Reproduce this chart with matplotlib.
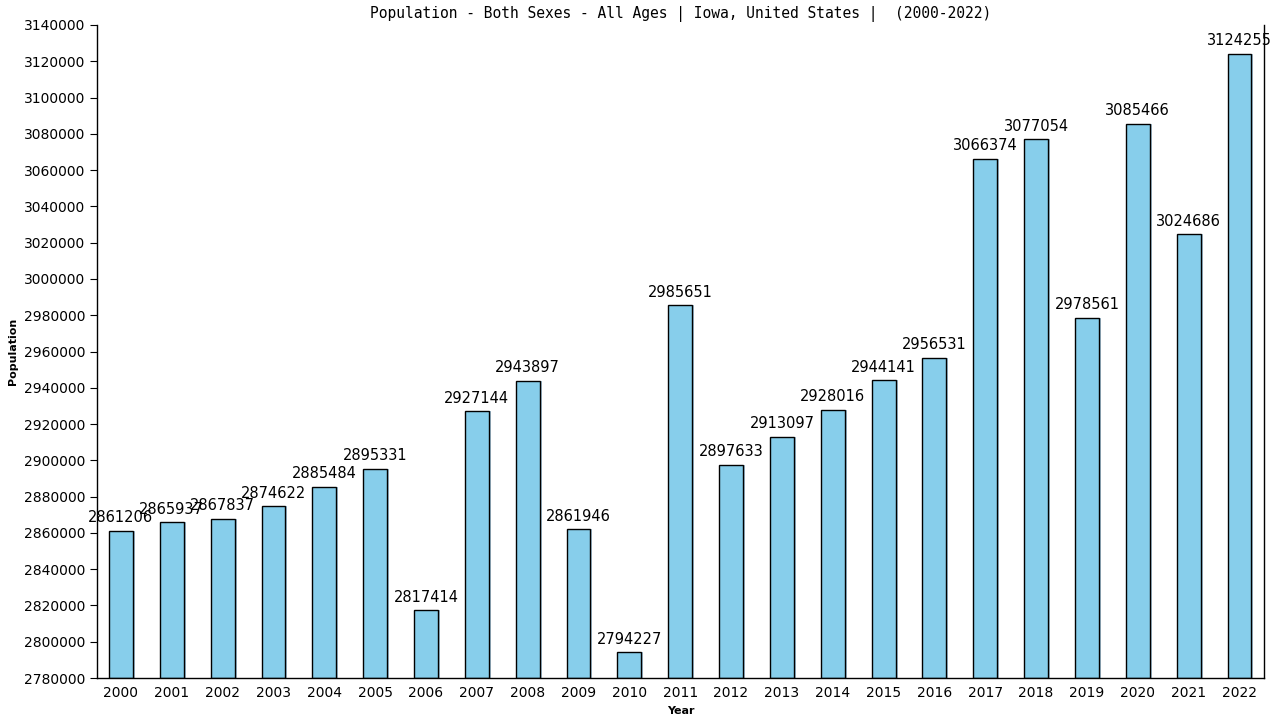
import numpy as np
import matplotlib
matplotlib.use("Agg")
import matplotlib.pyplot as plt

years = [str(y) for y in range(2000, 2023)]
population = [2861206, 2865937, 2867837, 2874622, 2885484, 2895331, 2817414,
              2927144, 2943897, 2861946, 2794227, 2985651, 2897633, 2913097,
              2928016, 2944141, 2956531, 3066374, 3077054, 2978561, 3085466,
              3024686, 3124255]

fig = plt.figure(figsize=(12.8, 7.2), dpi=100)
ax = fig.add_axes([0.0758, 0.0583, 0.912, 0.907])

x = np.arange(len(years))
base = 2780000
heights = np.array(population) - base

# soft shadow behind each bar
ax.bar(x + 0.04, heights, width=0.47, bottom=base, color="#6a9ab8", alpha=0.6,
       linewidth=0, zorder=1)
ax.bar(x, heights, width=0.47, bottom=base, color="#87ceeb",
       edgecolor="black", linewidth=1.0, zorder=2)

for xi, val in zip(x, population):
    ax.text(xi, val + 3000, str(val), ha="center", va="bottom",
            fontsize=10.5, family="DejaVu Sans", zorder=3)

ax.set_xlim(-0.47, 22.49)
ax.set_ylim(2780000, 3140000)
ax.set_yticks(np.arange(2780000, 3140001, 20000))
ax.set_yticklabels([str(v) for v in range(2780000, 3140001, 20000)], fontsize=10)
ax.set_xticks(x)
ax.set_xticklabels(years, fontsize=10)
ax.tick_params(axis="x", length=0, pad=6)
ax.tick_params(axis="y", length=5, direction="out")

ax.spines["top"].set_visible(False)
for s in ["left", "bottom", "right"]:
    ax.spines[s].set_linewidth(1.0)

ax.set_title("Population - Both Sexes - All Ages | Iowa, United States |  (2000-2022)",
             fontsize=10.5, family="DejaVu Sans Mono", pad=5)
ax.set_xlabel("Year", fontsize=8, fontweight="bold", labelpad=4)
ax.set_ylabel("Population", fontsize=8, fontweight="bold", labelpad=4)

fig.savefig("out.png", dpi=100)
